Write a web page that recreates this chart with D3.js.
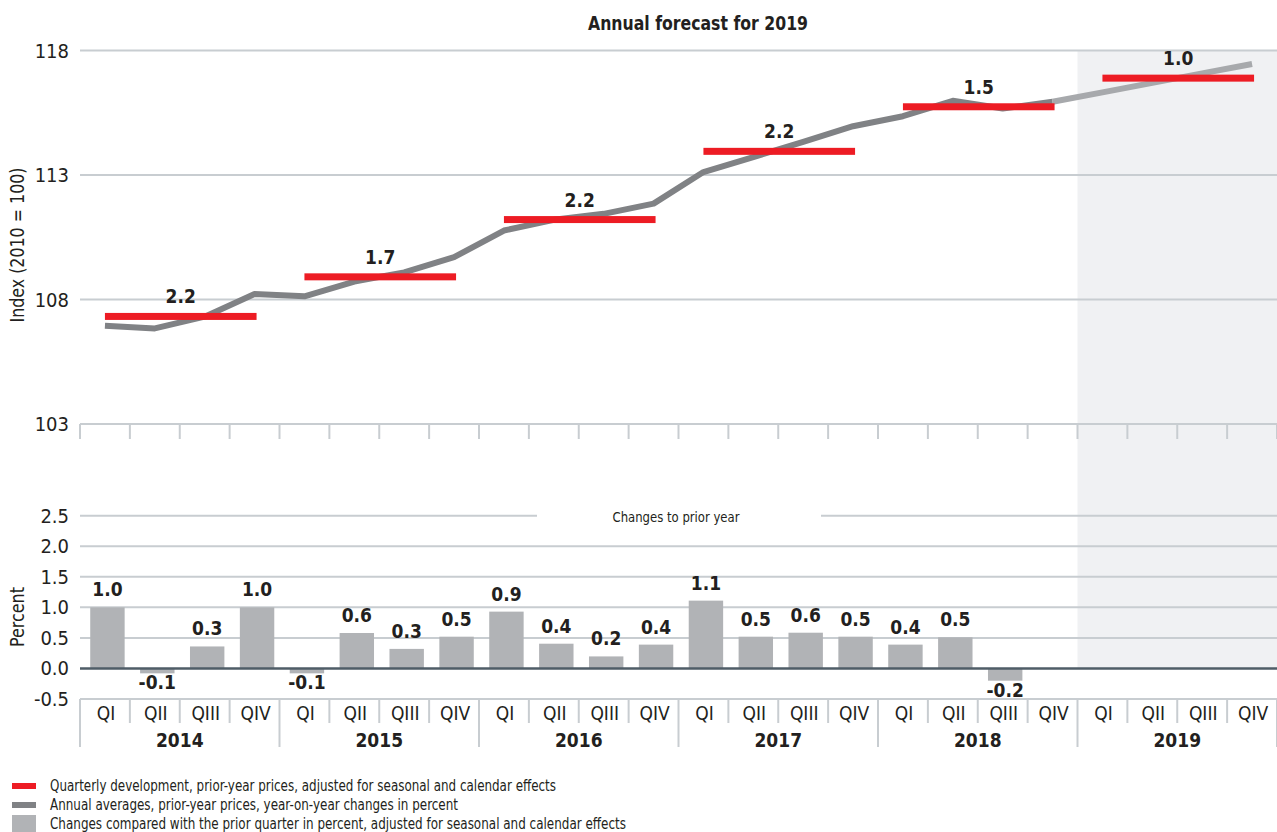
<!DOCTYPE html>
<html>
<head>
<meta charset="utf-8">
<script src="https://cdn.jsdelivr.net/npm/d3@7"></script>
<style>
  html, body { margin: 0; padding: 0; background: #fff; }
  svg { display: block; }
  text { font-family: "Liberation Sans Narrow", "Arial Narrow", "DejaVu Sans Condensed", sans-serif; fill: #231f20; }
</style>
</head>
<body>
<svg id="chart" width="1277" height="832"></svg>
<script>
// ---------- data ----------
const years = ["2014", "2015", "2016", "2017", "2018", "2019"];
const quarterNames = ["QI", "QII", "QIII", "QIV"];
const forecastYear = "2019";

// quarterly index level (2010 = 100)
const indexValues = [
  106.95, 106.84, 107.31, 108.22,
  108.13, 108.72, 109.09, 109.70,
  110.77, 111.20, 111.44, 111.85,
  113.12, 113.72, 114.33, 114.96,
  115.36, 115.98, 115.67, 115.94,
  116.32, 116.70, 117.08, 117.46
];
// annual average level and its year-on-year change
const annualAverages = [107.32, 108.91, 111.21, 113.95, 115.74, 116.89];
const annualLabels = ["2.2", "1.7", "2.2", "2.2", "1.5", "1.0"];

// quarter-on-quarter change in percent
const qoqValues = [
  1.00, -0.08, 0.36, 1.00,
  -0.08, 0.58, 0.32, 0.52,
  0.93, 0.405, 0.197, 0.39,
  1.11, 0.52, 0.585, 0.52,
  0.39, 0.51, -0.20
];
const qoqLabels = [
  "1.0", "-0.1", "0.3", "1.0",
  "-0.1", "0.6", "0.3", "0.5",
  "0.9", "0.4", "0.2", "0.4",
  "1.1", "0.5", "0.6", "0.5",
  "0.4", "0.5", "-0.2"
];

const topTicks = [103, 108, 113, 118];
const bottomTicks = [-0.5, 0, 0.5, 1.0, 1.5, 2.0, 2.5];
const bottomTickLabels = ["-0.5", "0.0", "0.5", "1.0", "1.5", "2.0", "2.5"];

const legendItems = [
  "Quarterly development, prior-year prices, adjusted for seasonal and calendar effects",
  "Annual averages, prior-year prices, year-on-year changes in percent",
  "Changes compared with the prior quarter in percent, adjusted for seasonal and calendar effects"
];

// ---------- layout ----------
const C = {
  red: "#ed1c24", dark: "#808285", forecastLine: "#a7a9ac", bar: "#b1b3b6",
  grid: "#c8cdd1", zero: "#4f5d67", shade: "#f0f1f3"
};
const svg = d3.select("#chart");

const keys = [];
years.forEach(y => quarterNames.forEach(q => keys.push(y + "-" + q)));

const x = d3.scaleBand().domain(keys).range([80, 1277]).padding(0);
const bw = x.bandwidth();
const xc = i => x(keys[i]) + bw / 2;

const yTop = d3.scaleLinear().domain([103, 118]).range([424, 50.5]);
const yBot = d3.scaleLinear().domain([-0.5, 2.5]).range([699, 515.7]);

// ---------- forecast shading ----------
const fIdx = years.indexOf(forecastYear) * 4;
svg.append("rect")
  .attr("x", x(keys[fIdx])).attr("y", yTop(118))
  .attr("width", 1277 - x(keys[fIdx]))
  .attr("height", yBot(0) - yTop(118))
  .attr("fill", C.shade);

// ---------- title ----------
svg.append("text").attr("x", 698).attr("y", 30)
  .attr("text-anchor", "middle").attr("font-size", 20).attr("font-weight", "bold")
  .attr("textLength", 220).attr("lengthAdjust", "spacingAndGlyphs")
  .text("Annual forecast for 2019");

// ---------- top chart ----------
const gTop = svg.append("g");
gTop.selectAll("line.grid").data(topTicks).join("line")
  .attr("x1", 80).attr("x2", 1277)
  .attr("y1", d => yTop(d)).attr("y2", d => yTop(d))
  .attr("stroke", C.grid).attr("stroke-width", 2);
gTop.selectAll("text.tick").data(topTicks).join("text")
  .attr("x", 69).attr("y", d => yTop(d) + 7)
  .attr("text-anchor", "end").attr("font-size", 20)
  .text(d => d);
// x ticks on top axis
const boundaries = keys.map(k => x(k)).concat([1277]);
gTop.selectAll("line.xt").data(boundaries).join("line")
  .attr("x1", d => d).attr("x2", d => d)
  .attr("y1", yTop(103)).attr("y2", yTop(103) + 15)
  .attr("stroke", C.grid).attr("stroke-width", 2);
svg.append("text")
  .attr("transform", "translate(24,245) rotate(-90)")
  .attr("text-anchor", "middle").attr("font-size", 19)
  .attr("textLength", 155).attr("lengthAdjust", "spacingAndGlyphs")
  .text("Index (2010 = 100)");

// line
const line = d3.line().x(d => xc(d.i)).y(d => yTop(d.v));
const pts = indexValues.map((v, i) => ({ i, v }));
gTop.append("path").datum(pts.slice(0, fIdx))
  .attr("d", line).attr("fill", "none").attr("stroke", C.dark)
  .attr("stroke-width", 6).attr("stroke-linejoin", "round");
gTop.append("path").datum(pts.slice(fIdx - 1))
  .attr("d", line).attr("fill", "none").attr("stroke", C.forecastLine)
  .attr("stroke-width", 6).attr("stroke-linejoin", "round");

// annual average bars
annualAverages.forEach((v, yi) => {
  const x1 = xc(yi * 4), x2 = xc(yi * 4 + 3) + 2;
  gTop.append("rect")
    .attr("x", x1).attr("y", yTop(v) - 3.5)
    .attr("width", x2 - x1).attr("height", 7)
    .attr("fill", C.red);
  gTop.append("text")
    .attr("x", (x1 + x2) / 2).attr("y", yTop(v) - 13)
    .attr("text-anchor", "middle").attr("font-size", 19).attr("font-weight", "bold")
    .text(annualLabels[yi]);
});

// ---------- bottom chart ----------
const gBot = svg.append("g");
const gridTicks = bottomTicks.filter(d => d !== 0 && d !== -0.5);
gridTicks.forEach(d => {
  if (d === 2.5) {
    gBot.append("line").attr("x1", 80).attr("x2", 537)
      .attr("y1", yBot(d)).attr("y2", yBot(d)).attr("stroke", C.grid).attr("stroke-width", 2);
    gBot.append("line").attr("x1", 821).attr("x2", 1277)
      .attr("y1", yBot(d)).attr("y2", yBot(d)).attr("stroke", C.grid).attr("stroke-width", 2);
  } else {
    gBot.append("line").attr("x1", 80).attr("x2", 1277)
      .attr("y1", yBot(d)).attr("y2", yBot(d)).attr("stroke", C.grid).attr("stroke-width", 2);
  }
});
gBot.append("text").attr("x", 676).attr("y", yBot(2.5) + 6)
  .attr("text-anchor", "middle").attr("font-size", 14)
  .attr("textLength", 127).attr("lengthAdjust", "spacingAndGlyphs")
  .text("Changes to prior year");

gBot.selectAll("text.tick").data(bottomTicks).join("text")
  .attr("x", 69).attr("y", d => yBot(d) + 7)
  .attr("text-anchor", "end").attr("font-size", 20)
  .text((d, i) => bottomTickLabels[i]);
svg.append("text")
  .attr("transform", "translate(24,617) rotate(-90)")
  .attr("text-anchor", "middle").attr("font-size", 19)
  .attr("textLength", 60).attr("lengthAdjust", "spacingAndGlyphs")
  .text("Percent");

// bars
const barW = bw * 0.69;
const barOff = 2.5;
qoqValues.forEach((v, i) => {
  const cx = xc(i) + barOff;
  const y0 = yBot(0), y1 = yBot(v);
  gBot.append("rect")
    .attr("x", cx - barW / 2).attr("width", barW)
    .attr("y", Math.min(y0, y1)).attr("height", Math.abs(y1 - y0))
    .attr("fill", C.bar);
  gBot.append("text")
    .attr("x", cx).attr("y", v >= 0 ? y1 - 11 : y1 + 16)
    .attr("text-anchor", "middle").attr("font-size", 19).attr("font-weight", "bold")
    .text(qoqLabels[i]);
});

// zero line
gBot.append("line").attr("x1", 80).attr("x2", 1277)
  .attr("y1", yBot(0)).attr("y2", yBot(0))
  .attr("stroke", C.zero).attr("stroke-width", 2.5);

// x axis (bottom)
gBot.append("line").attr("x1", 80).attr("x2", 1277)
  .attr("y1", yBot(-0.5)).attr("y2", yBot(-0.5))
  .attr("stroke", C.grid).attr("stroke-width", 2);
boundaries.forEach((b, i) => {
  const isYear = i % 4 === 0;
  gBot.append("line").attr("x1", b).attr("x2", b)
    .attr("y1", yBot(-0.5)).attr("y2", isYear ? 747 : 723)
    .attr("stroke", C.grid).attr("stroke-width", 2);
});
keys.forEach((k, i) => {
  gBot.append("text").attr("x", xc(i) + 1).attr("y", 720)
    .attr("text-anchor", "middle").attr("font-size", 19)
    .text(quarterNames[i % 4]);
});
years.forEach((y, yi) => {
  gBot.append("text").attr("x", (x(keys[yi * 4]) + x(keys[yi * 4 + 3]) + bw) / 2).attr("y", 747)
    .attr("text-anchor", "middle").attr("font-size", 19).attr("font-weight", "bold")
    .text(y);
});

// ---------- legend ----------
const lg = svg.append("g");
const swatches = [
  { y: 783, h: 6, c: C.red, ty: 791, w: 506 },
  { y: 802, h: 6, c: C.dark, ty: 810, w: 408 },
  { y: 815, h: 17, c: C.bar, ty: 829, w: 576 }
];
swatches.forEach((s, i) => {
  lg.append("rect").attr("x", 12).attr("y", s.y).attr("width", 24).attr("height", s.h).attr("fill", s.c);
  lg.append("text").attr("x", 50).attr("y", s.ty).attr("font-size", 15)
    .attr("textLength", s.w).attr("lengthAdjust", "spacingAndGlyphs")
    .text(legendItems[i]);
});
</script>
</body>
</html>
